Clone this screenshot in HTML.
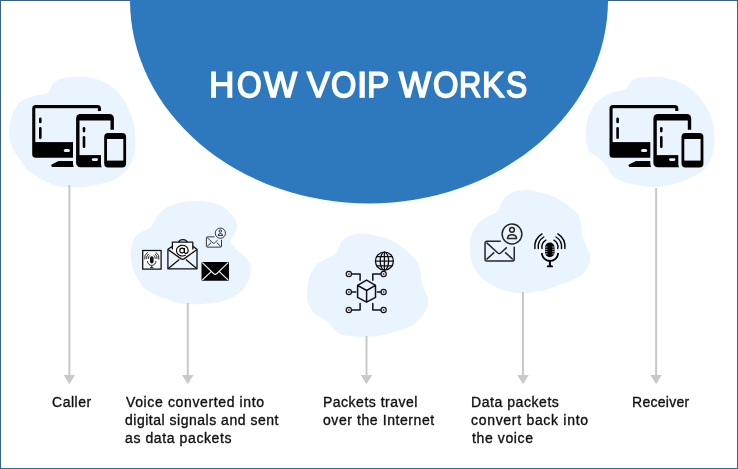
<!DOCTYPE html>
<html><head><meta charset="utf-8">
<style>
html,body{margin:0;padding:0;}
body{width:738px;height:469px;position:relative;overflow:hidden;background:#fff;font-family:"Liberation Sans",sans-serif;}
svg.bg{position:absolute;left:0;top:0;}
.t{position:absolute;font-size:14px;line-height:18px;color:#111;white-space:nowrap;will-change:transform;-webkit-text-stroke:0.35px #111;}
.title{position:absolute;left:0;top:62.8px;text-rendering:geometricPrecision;font-size:37.5px;color:#fff;-webkit-text-stroke:1.7px #fff;line-height:44px;will-change:transform;}
.title span{position:absolute;top:0;transform-origin:0 0;white-space:nowrap;}
.frame{position:absolute;left:0;top:0;width:736px;height:467px;border:1px solid #3a6089;border-bottom-color:#2f67a4;}
</style></head><body>
<div class="frame"></div>
<svg class="bg" width="738" height="469" viewBox="0 0 738 469">
<defs>
  <g id="dev">
    <!-- monitor -->
    <rect x="32.2" y="105" width="68.8" height="52.8" rx="3.6" fill="#000"/>
    <rect x="35.3" y="108.2" width="62.6" height="33.9" fill="#eaf4fe"/>
    <rect x="39" y="117.6" width="2.6" height="5.6" rx="1.3" fill="#000"/>
    <rect x="39" y="127" width="2.6" height="12" rx="1.3" fill="#000"/>
    <rect x="63.8" y="148.9" width="6.1" height="3" rx="1.5" fill="#eaf4fe"/>
    <path d="M58.6,161.1 H74 V167 H52.6 A1.4,1.4 0 0 1 51.7,164.6 Z" fill="#000"/>
    <!-- tablet -->
    <rect x="73" y="111" width="44" height="59.4" rx="6.5" fill="#eaf4fe"/>
    <rect x="76.1" y="114.1" width="37.8" height="53.2" rx="4.3" fill="#000"/>
    <rect x="79.5" y="120.5" width="31" height="34.6" fill="#eaf4fe"/>
    <rect x="82.7" y="126.9" width="2.6" height="5.5" rx="1.3" fill="#000"/>
    <rect x="82.7" y="136" width="2.6" height="12" rx="1.3" fill="#000"/>
    <rect x="91.8" y="158.3" width="6.2" height="2.6" rx="1.3" fill="#eaf4fe"/>
    <!-- phone -->
    <rect x="101" y="129.8" width="28.3" height="41" rx="6.5" fill="#eaf4fe"/>
    <rect x="104.2" y="133" width="21.9" height="34.6" rx="4" fill="#000"/>
    <rect x="107" y="139" width="16.3" height="21.6" fill="#eaf4fe"/>
  </g>
  <g id="envb">
    <!-- envelope with badge; origin at envelope top-left (outer), size 30.7x21.3 -->
    <path d="M16.5,0.75 H2.5 A1.75,1.75 0 0 0 0.75,2.5 V18.8 A1.75,1.75 0 0 0 2.5,20.55 H28.2 A1.75,1.75 0 0 0 29.95,18.8 V6.4" fill="none"/>
    <path d="M2.2,2.2 L13.6,12.6 Q15,13.8 16.4,12.6 L22.5,7" fill="none"/>
    <path d="M2.2,19 L10,12" fill="none"/>
    <path d="M28.5,19 L20.8,12" fill="none"/>
    <circle cx="27.7" cy="-6.4" r="9.9" fill="none"/>
    <circle cx="27.7" cy="-10.6" r="2.4" fill="none"/>
    <path d="M23.2,-1.9 Q23.2,-5.7 27.7,-5.7 Q32.2,-5.7 32.2,-1.9 Z" fill="none" stroke-linejoin="round"/>
  </g>
</defs>

<!-- big blue ellipse -->
<ellipse cx="369" cy="0" rx="239" ry="203.5" fill="#2e79be"/>

<!-- blobs -->
<path fill="#eaf4fe" d="M80.0,76.7 C85.5,76.9 91.2,77.5 96.7,79.3 C102.2,81.1 108.3,84.0 112.7,87.3 C117.1,90.6 120.4,95.1 123.3,99.3 C126.2,103.5 128.2,108.2 130.0,112.7 C131.8,117.2 133.1,121.1 134.0,126.0 C134.9,130.9 135.3,137.1 135.3,142.0 C135.3,146.9 135.3,150.9 134.0,155.3 C132.7,159.8 130.4,164.7 127.3,168.7 C124.2,172.7 120.4,176.6 115.3,179.3 C110.2,182.0 102.9,183.4 96.7,184.7 C90.5,186.0 82.6,186.9 78.0,187.3 C73.4,187.7 73.4,187.7 69.3,187.3 C65.2,186.9 58.6,186.5 53.3,184.7 C48.0,182.9 41.7,179.4 37.3,176.7 C32.9,174.0 29.8,171.8 26.7,168.7 C23.6,165.6 21.1,161.6 18.7,158.0 C16.2,154.4 13.6,151.3 12.0,147.3 C10.4,143.3 9.5,138.4 9.3,134.0 C9.1,129.6 9.6,125.2 10.7,120.7 C11.8,116.2 13.8,110.9 16.0,107.3 C18.2,103.7 20.4,101.3 24.0,99.3 C27.6,97.3 33.3,96.4 37.3,95.3 C41.3,94.2 45.3,94.7 48.0,92.7 C50.7,90.7 50.6,85.8 53.3,83.3 C56.0,80.8 59.5,79.1 64.0,78.0 C68.5,76.9 74.5,76.5 80.0,76.7 Z"/>
<path fill="#eaf4fe" d="M200.0,201.1 C204.8,201.1 206.7,201.9 210.0,202.5 C213.3,203.1 216.9,203.5 219.7,204.7 C222.4,205.9 224.3,207.6 226.5,209.5 C228.7,211.4 230.9,213.8 232.6,216.0 C234.3,218.2 235.9,220.2 236.5,222.5 C237.1,224.8 237.0,227.1 236.3,229.5 C235.6,231.9 233.4,234.9 232.5,237.0 C231.6,239.1 230.4,240.4 230.6,242.0 C230.8,243.6 231.9,244.8 233.5,246.5 C235.1,248.2 237.8,250.6 240.0,252.5 C242.2,254.4 244.9,255.8 246.6,258.0 C248.3,260.2 249.6,263.2 250.2,266.0 C250.8,268.8 250.8,271.9 250.2,275.0 C249.6,278.1 248.6,281.3 246.6,284.4 C244.6,287.5 242.1,291.0 238.4,293.7 C234.7,296.4 229.5,299.1 224.4,300.8 C219.3,302.5 213.5,303.0 208.0,303.6 C202.5,304.2 196.9,304.5 191.2,304.2 C185.5,303.9 179.7,303.1 174.0,301.7 C168.3,300.3 161.7,297.8 156.8,295.6 C151.9,293.4 148.0,291.6 144.5,288.3 C141.0,285.0 138.2,280.5 136.0,276.0 C133.8,271.5 131.8,265.8 131.0,261.3 C130.2,256.8 130.4,252.9 131.0,249.0 C131.6,245.1 132.8,240.9 134.7,238.0 C136.5,235.1 139.4,233.7 142.1,231.8 C144.8,230.0 148.2,229.4 150.7,226.9 C153.1,224.4 154.2,220.4 156.8,217.1 C159.5,213.8 162.5,209.8 166.6,207.3 C170.7,204.9 175.7,203.4 181.3,202.4 C186.9,201.4 195.2,201.1 200.0,201.1 Z"/>
<path fill="#eaf4fe" d="M370.0,234.2 C373.4,234.4 371.3,234.4 375.0,235.5 C378.7,236.6 386.9,238.2 392.4,241.0 C397.9,243.8 403.8,248.8 407.8,252.0 C411.8,255.2 414.2,257.3 416.3,260.5 C418.4,263.7 419.6,267.6 420.5,271.2 C421.4,274.8 420.9,278.6 421.6,281.8 C422.3,285.0 423.7,287.5 424.8,290.3 C425.9,293.1 427.6,296.0 428.0,298.8 C428.4,301.6 428.1,304.1 426.9,307.3 C425.6,310.5 423.3,314.8 420.5,318.0 C417.7,321.2 414.1,324.2 409.9,326.5 C405.6,328.8 400.0,330.3 395.0,331.8 C390.0,333.3 384.8,334.7 380.0,335.5 C375.2,336.3 371.7,336.8 366.0,336.8 C360.3,336.8 350.7,336.4 345.7,335.5 C340.7,334.6 339.0,333.6 336.0,331.3 C333.0,329.0 331.4,324.6 327.7,321.6 C324.0,318.6 317.2,316.7 313.9,313.3 C310.5,309.9 308.7,305.4 307.6,301.0 C306.6,296.6 307.2,291.3 307.6,287.0 C308.0,282.7 308.4,279.1 310.0,275.3 C311.6,271.5 314.5,267.0 317.4,264.1 C320.3,261.2 324.3,259.8 327.4,257.9 C330.5,256.0 333.6,255.8 336.1,252.9 C338.6,250.0 339.3,243.6 342.4,240.5 C345.5,237.4 350.2,235.2 354.8,234.2 C359.4,233.1 366.6,234.0 370.0,234.2 Z"/>
<path fill="#eaf4fe" d="M530.0,189.9 C533.0,189.9 531.1,190.1 534.7,191.1 C538.4,192.1 547.7,194.4 551.9,196.0 C556.1,197.6 557.0,198.6 560.0,200.5 C563.0,202.4 567.2,204.7 570.2,207.2 C573.2,209.7 576.4,212.2 578.3,215.3 C580.1,218.4 580.6,222.1 581.3,225.5 C582.0,228.9 581.4,232.2 582.3,235.6 C583.1,239.0 585.1,242.4 586.4,245.8 C587.7,249.2 589.7,252.6 590.0,256.0 C590.3,259.4 589.7,263.0 588.4,266.0 C587.1,269.0 585.0,271.8 582.3,274.2 C579.6,276.6 575.9,278.5 572.2,280.3 C568.5,282.1 564.4,283.2 560.0,284.8 C555.6,286.4 550.2,288.7 546.0,289.8 C541.8,290.9 538.8,291.1 534.7,291.7 C530.6,292.2 526.5,293.3 521.4,293.1 C516.3,292.9 509.5,292.2 504.2,290.6 C498.9,289.0 493.6,285.8 489.5,283.3 C485.4,280.9 482.6,279.2 479.7,275.9 C476.8,272.6 473.9,268.1 472.3,263.6 C470.7,259.1 470.0,253.4 469.8,248.9 C469.6,244.4 469.8,240.7 471.0,236.6 C472.2,232.5 474.5,227.6 477.2,224.3 C479.9,221.0 483.7,219.0 487.0,216.9 C490.3,214.8 494.6,214.0 496.8,212.0 C499.1,210.0 498.9,207.3 500.5,204.7 C502.1,202.0 504.0,198.4 506.7,196.1 C509.4,193.8 512.6,192.1 516.5,191.1 C520.4,190.1 527.0,189.9 530.0,189.9 Z"/>
<path fill="#eaf4fe" d="M660.0,76.7 C664.5,76.7 662.3,76.9 666.0,78.0 C669.7,79.1 677.1,80.8 682.0,83.3 C686.9,85.8 691.5,89.1 695.3,92.7 C699.1,96.3 702.0,100.5 704.7,104.7 C707.4,108.9 709.8,113.6 711.3,118.0 C712.8,122.4 713.5,126.4 714.0,131.3 C714.5,136.2 714.7,142.4 714.0,147.3 C713.3,152.2 712.0,156.7 710.0,160.7 C708.0,164.7 705.8,168.2 702.0,171.3 C698.2,174.4 692.4,177.1 687.3,179.3 C682.2,181.5 676.6,183.4 671.3,184.7 C666.0,186.0 660.5,187.1 655.3,187.3 C650.1,187.5 644.0,186.3 640.0,185.8 C636.0,185.3 634.8,185.1 631.2,184.1 C627.6,183.1 621.8,181.5 618.4,179.7 C615.0,177.9 612.6,175.4 610.7,173.3 C608.8,171.2 608.4,169.0 606.9,166.9 C605.4,164.8 604.1,162.6 601.7,160.5 C599.4,158.4 595.1,156.2 592.8,154.1 C590.5,152.0 588.9,150.4 587.7,147.7 C586.5,145.0 586.1,141.3 585.8,138.0 C585.5,134.7 585.7,131.3 586.0,128.0 C586.3,124.7 586.3,121.9 587.8,118.0 C589.2,114.1 592.0,108.2 594.7,104.7 C597.4,101.2 600.2,98.9 604.0,96.7 C607.8,94.5 613.5,92.6 617.3,91.3 C621.1,90.0 624.5,90.2 626.7,88.7 C628.9,87.2 628.7,83.8 630.7,82.0 C632.7,80.2 633.8,78.9 638.7,78.0 C643.6,77.1 655.5,76.7 660.0,76.7 Z"/>

<!-- devices -->
<use href="#dev"/>
<use href="#dev" transform="translate(577.3,0)"/>

<!-- connector lines -->
<g fill="#c9c9c9">
  <rect x="68.4" y="185" width="2" height="191"/>
  <path d="M63.7,375 H75.1 L69.4,384.2 Z"/>
  <rect x="186.8" y="303" width="2" height="73"/>
  <path d="M182.1,375 H193.5 L187.8,384.2 Z"/>
  <rect x="365.5" y="336" width="2" height="40"/>
  <path d="M360.8,375 H372.2 L366.5,384.2 Z"/>
  <rect x="522" y="292" width="2" height="84"/>
  <path d="M517.3,375 H528.7 L523,384.2 Z"/>
  <rect x="655.1" y="188" width="2" height="188"/>
  <path d="M650.4,375 H661.8 L656.1,384.2 Z"/>
</g>

<!-- col2 icons -->
<g stroke="#111" fill="none">
  <rect x="142.7" y="250.5" width="18.4" height="18.6" stroke-width="1.3" fill="#fafcff"/>
  <rect x="150" y="256.3" width="3.6" height="7.1" rx="1.8" fill="#111" stroke="none"/>
  <path d="M147.45,261 A4.25,4.4 0 0 0 155.95,261" stroke-width="0.9"/>
  <path d="M151.7,265.3 V267.4 M150,267.6 H153.5" stroke-width="0.9"/>
  <path d="M148.45,258.79 A3.4,3.4 0 0 1 149.85,255.42 M146.58,259.12 A5.3,5.3 0 0 1 148.76,253.86 M144.71,259.45 A7.2,7.2 0 0 1 147.67,252.3" stroke-width="0.9"/>
  <path d="M155.15,258.79 A3.4,3.4 0 0 0 153.75,255.42 M157.02,259.12 A5.3,5.3 0 0 0 154.84,253.86 M158.89,259.45 A7.2,7.2 0 0 0 155.93,252.3" stroke-width="0.9"/>
</g>
<g stroke="#111" fill="none" stroke-width="1.3" stroke-linejoin="round">
  <path d="M167.9,249.2 V268.8 H197 V249.2 L192.9,246.4 M167.9,249.2 L172.4,246.4" />
  <path d="M172.4,253 V242.2 H192.8 V253" fill="#fcfdff"/>
  <path d="M178.6,242.2 A4.4,3.2 0 0 1 187.2,242.2" />
  <path d="M167.9,249.4 L180.8,258.6 Q182.6,259.9 184.4,258.6 L197,249.4" fill="#fcfdff"/>
  <path d="M168.3,268.4 L179.3,259.4 M196.7,268.4 L185.8,259.4"/>
</g>
<g stroke="#000" fill="none" stroke-width="1.1">
  <ellipse cx="182.1" cy="250.5" rx="2.3" ry="2.4"/>
  <path d="M184.4,248 V251.9 Q184.4,253.4 185.9,253.4 Q188.2,253.4 188.2,250.3 A5.85,5.4 0 1 0 185.9,254.9"/>
</g>
<use href="#envb" stroke="#2a2a2a" stroke-width="1.8" transform="translate(206,236.5) scale(0.518)"/>
<g>
  <rect x="201.5" y="261.9" width="27.5" height="18.8" rx="1" fill="#000"/>
  <path d="M202.3,262.7 L213.5,273.5 Q215.2,275.1 216.9,273.5 L228.2,262.7 M202.3,280 L211.2,271.7 M228.2,280 L219.3,271.7" stroke="#eef4fc" stroke-width="1.1" fill="none"/>
</g>

<!-- col3 network icon -->
<g stroke="#111" fill="none" stroke-width="1.5" stroke-linejoin="round" stroke-linecap="round">
  <path d="M366.6,280.1 L375.5,285.3 V297.3 L366.6,302.2 L357.6,297.3 V285.3 Z M357.6,285.3 L366.6,290.5 L375.5,285.3 M366.6,290.5 V302.2"/>
  <path d="M351.2,274.1 H360.1 V280.3"/>
  <path d="M351.2,292 H355.8"/>
  <path d="M351.2,310 H360.1 V303.5"/>
  <path d="M381.1,274.1 H372.8 V280.3"/>
  <path d="M381.1,292 H377.3"/>
  <path d="M381.1,310 H372.8 V303.5"/>
  <circle cx="348.85" cy="274" r="2.6" stroke-width="1.2" fill="#fcfdff"/>
  <circle cx="348.85" cy="292" r="2.6" stroke-width="1.2" fill="#fcfdff"/>
  <circle cx="348.85" cy="310" r="2.6" stroke-width="1.2" fill="#fcfdff"/>
  <circle cx="383.6" cy="274" r="2.6" stroke-width="1.2" fill="#fcfdff"/>
  <circle cx="383.6" cy="292" r="2.6" stroke-width="1.2" fill="#fcfdff"/>
  <circle cx="383.6" cy="310" r="2.6" stroke-width="1.2" fill="#fcfdff"/>
</g>
<g fill="#111">
  <circle cx="348.85" cy="274" r="0.85"/><circle cx="348.85" cy="292" r="0.85"/><circle cx="348.85" cy="310" r="0.85"/>
  <circle cx="383.6" cy="274" r="0.85"/><circle cx="383.6" cy="292" r="0.85"/><circle cx="383.6" cy="310" r="0.85"/>
</g>
<g stroke="#111" fill="none" stroke-width="1.3">
  <circle cx="384.4" cy="261.1" r="9"/>
  <ellipse cx="384.4" cy="261.1" rx="4.2" ry="9"/>
  <path d="M384.4,252.1 V270.1 M376,256.6 H392.8 M375.4,261.2 H393.4 M376,265.8 H392.8"/>
</g>

<!-- col4 icons -->
<use href="#envb" stroke="#262626" stroke-width="1.5" transform="translate(484.3,240.4)"/>
<g>
  <path d="M541.9,252.9 A8.1,8.1 0 0 0 558.1,252.9" stroke="#000" stroke-width="1.8" fill="none"/>
  <rect x="545" y="242.6" width="9.6" height="14.6" rx="4.8" fill="#000"/>
  <path d="M545,247 H547.5 M545,249.3 H547.5 M545,251.6 H547.5 M545,253.9 H547.5 M552.1,247 H554.6 M552.1,249.3 H554.6 M552.1,251.6 H554.6 M552.1,253.9 H554.6" stroke="#eaf4fe" stroke-width="0.7"/>
  <rect x="548.9" y="260.5" width="2" height="5" fill="#000"/>
  <path d="M546.7,267.2 Q546.7,264.9 549.9,264.9 Q553.1,264.9 553.1,267.2 Z" fill="#000"/>
  <g stroke="#000" stroke-width="1.4" fill="none" stroke-linecap="round">
    <path d="M542,248.5 A8.1,8.1 0 0 1 545.9,240.2"/>
    <path d="M538.3,248.5 A11.8,11.8 0 0 1 543.8,237"/>
    <path d="M534.9,248.5 A15.2,15.2 0 0 1 542,233.9"/>
    <path d="M557.8,248.5 A8.1,8.1 0 0 0 553.9,240.2"/>
    <path d="M561.5,248.5 A11.8,11.8 0 0 0 556,237"/>
    <path d="M564.9,248.5 A15.2,15.2 0 0 0 557.8,233.9"/>
  </g>
</g>
</svg>

<div class="title">
<span style="left:209.47px;transform:scale(0.936,0.96)">H</span>
<span style="left:236.89px;transform:scale(0.846,0.96)">O</span>
<span style="left:263.58px;transform:scale(0.932,0.96)">W</span>
<span style="left:307.16px;transform:scale(0.915,0.96)">V</span>
<span style="left:331.17px;transform:scale(0.868,0.96)">O</span>
<span style="left:357.00px;transform:scale(0.994,0.96)">I</span>
<span style="left:367.18px;transform:scale(0.892,0.96)">P</span>
<span style="left:399.37px;transform:scale(0.905,0.96)">W</span>
<span style="left:432.76px;transform:scale(0.872,0.96)">O</span>
<span style="left:459.15px;transform:scale(0.824,0.96)">R</span>
<span style="left:481.88px;transform:scale(0.890,0.96)">K</span>
<span style="left:506.30px;transform:scale(0.846,0.96)">S</span>
</div>

<div class="t" style="left:52px;top:392.6px;letter-spacing:0.52px">Caller</div>
<div class="t" style="left:125.7px;top:392.6px;letter-spacing:0.63px">Voice converted into</div>
<div class="t" style="left:125px;top:410.6px;letter-spacing:0.51px">digital signals and sent</div>
<div class="t" style="left:124.5px;top:428.6px;letter-spacing:0.6px">as data packets</div>
<div class="t" style="left:322.9px;top:392.6px;letter-spacing:0.5px">Packets travel</div>
<div class="t" style="left:322.5px;top:410.6px;letter-spacing:0.58px">over the Internet</div>
<div class="t" style="left:471px;top:392.6px;letter-spacing:0.56px">Data packets</div>
<div class="t" style="left:470.8px;top:410.6px;letter-spacing:0.7px">convert back into</div>
<div class="t" style="left:471.8px;top:428.6px;letter-spacing:0.62px">the voice</div>
<div class="t" style="left:632.1px;top:392.6px;letter-spacing:0.29px">Receiver</div>

</body></html>
